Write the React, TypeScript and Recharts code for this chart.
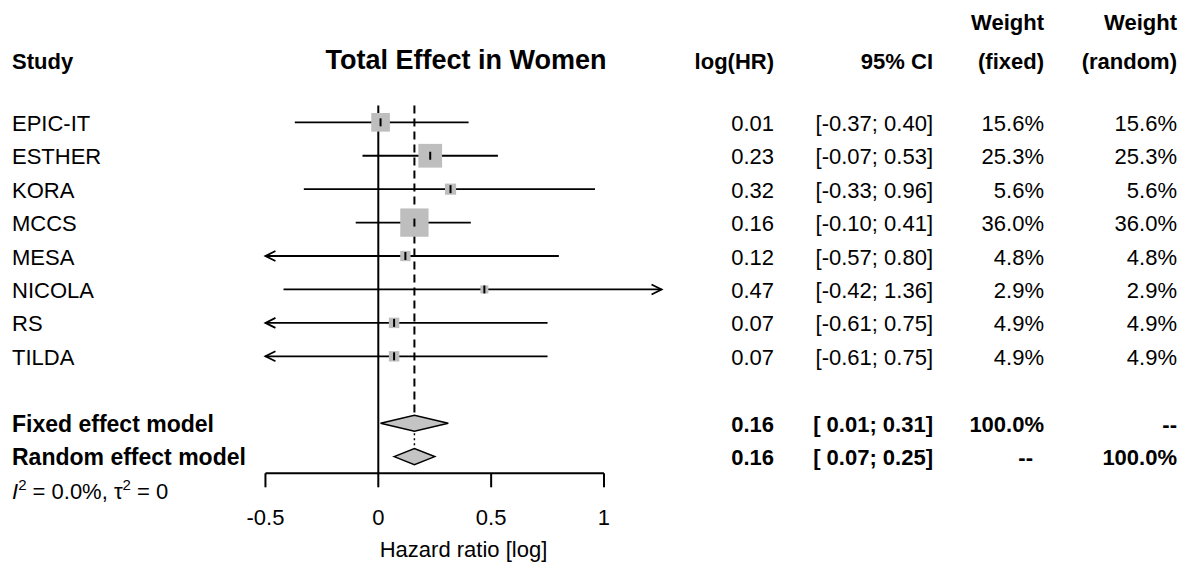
import React from 'react';
import { ComposedChart, XAxis, YAxis, Scatter, ReferenceLine, Customized } from 'recharts';

// ---------- data ----------
const studies = ['EPIC-IT', 'ESTHER', 'KORA', 'MCCS', 'MESA', 'NICOLA', 'RS', 'TILDA'];
const logHR = [0.01, 0.23, 0.32, 0.16, 0.12, 0.47, 0.07, 0.07];
const ciLow = [-0.37, -0.07, -0.33, -0.10, -0.57, -0.42, -0.61, -0.61];
const ciHigh = [0.40, 0.53, 0.96, 0.41, 0.80, 1.36, 0.75, 0.75];
const weightFixed = [15.6, 25.3, 5.6, 36.0, 4.8, 2.9, 4.9, 4.9];
const weightRandom = [15.6, 25.3, 5.6, 36.0, 4.8, 2.9, 4.9, 4.9];

const pooledLabels = ['Fixed effect model', 'Random effect model'];
const pooledEst = [0.16, 0.16];
const pooledLow = [0.01, 0.07];
const pooledHigh = [0.31, 0.25];
const pooledWeightFixed = ['100.0%', '--'];
const pooledWeightRandom = ['--', '100.0%'];

const xTicks = [-0.5, 0, 0.5, 1];
const X_MIN = -0.5;
const X_MAX = 1.255;
const I2 = '0.0%';
const TAU2 = '0';

// ---------- style ----------
const FONT = '"Liberation Sans", Arial, Helvetica, sans-serif';
const FS = 22;
const SQUARE_FILL = '#bebebe';
const COL = { study: 12, est: 774, ci: 933, wf: 1044, wr: 1177 };

const fmtCI = (lo: number, hi: number) =>
  `[${lo < 0 ? '' : '\u00a0'}${lo.toFixed(2)}; ${hi.toFixed(2)}]`;

const studyPoints = studies.map((s, i) => ({ x: logHR[i], y: i, w: weightFixed[i] }));

const tableRows = [
  ...studies.map((s, i) => ({
    x: 0,
    y: i,
    label: s,
    est: logHR[i].toFixed(2),
    ci: fmtCI(ciLow[i], ciHigh[i]),
    wf: `${weightFixed[i].toFixed(1)}%`,
    wr: `${weightRandom[i].toFixed(1)}%`,
    bold: false,
  })),
  ...pooledLabels.map((s, j) => ({
    x: 0,
    y: studies.length + 1 + j,
    label: s,
    est: pooledEst[j].toFixed(2),
    ci: fmtCI(pooledLow[j], pooledHigh[j]),
    wf: pooledWeightFixed[j],
    wr: pooledWeightRandom[j],
    bold: true,
  })),
];

const pooledRowY = pooledLabels.map((_, j) => studies.length + 1 + j);

const TableRow = (p: any) => {
  const r = p.payload;
  const y = p.cy + 8.5;
  const fw = r.bold ? 'bold' : 'normal';
  const wfX = r.wf === '--' ? COL.wf - 11 : COL.wf;
  return (
    <g fontFamily={FONT} fontSize={FS} fill="#000" fontWeight={fw}>
      <text x={COL.study} y={y} fontSize={r.bold ? 23 : FS}>{r.label}</text>
      <text x={COL.est} y={y} textAnchor="end">{r.est}</text>
      <text x={COL.ci} y={y} textAnchor="end" style={{ whiteSpace: 'pre' }}>{r.ci}</text>
      <text x={wfX} y={y} textAnchor="end">{r.wf}</text>
      <text x={COL.wr} y={y} textAnchor="end">{r.wr}</text>
    </g>
  );
};

const StudySquare = (p: any) => {
  const s = 4.72 * Math.sqrt(p.payload.w);
  return (
    <g>
      <rect x={p.cx - s / 2} y={p.cy - s / 2} width={s} height={s} fill={SQUARE_FILL} />
      <line x1={p.cx} x2={p.cx} y1={p.cy - 4} y2={p.cy + 4} stroke="#000" strokeWidth={2} />
    </g>
  );
};

const makeCiShape = (arrowLeft: boolean, arrowRight: boolean) => (p: any) => {
  const { x1, x2, y1 } = p;
  return (
    <g stroke="#000" strokeWidth={1.8} fill="none">
      <line x1={x1} x2={x2} y1={y1} y2={y1} />
      {arrowLeft && <polyline points={`${x1 + 10},${y1 - 5} ${x1},${y1} ${x1 + 10},${y1 + 5}`} />}
      {arrowRight && <polyline points={`${x2 - 10},${y1 - 5} ${x2},${y1} ${x2 - 10},${y1 + 5}`} />}
    </g>
  );
};

const Diamond = (p: any) => {
  const { x1, x2, y1 } = p;
  const mid = (x1 + x2) / 2;
  return (
    <polygon
      points={`${x1},${y1} ${mid},${y1 - 8} ${x2},${y1} ${mid},${y1 + 8}`}
      fill="#c4c4c4"
      stroke="#000"
      strokeWidth={1.5}
    />
  );
};

const Headers = () => (
  <g fontFamily={FONT} fill="#000">
    <text x={466} y={69} fontSize={27} fontWeight="bold" textAnchor="middle">Total Effect in Women</text>
    <g fontSize={FS} fontWeight="bold">
      <text x={COL.study} y={69}>Study</text>
      <text x={COL.est} y={69} textAnchor="end">log(HR)</text>
      <text x={COL.ci} y={69} textAnchor="end">95% CI</text>
      <text x={COL.wf} y={30} textAnchor="end">Weight</text>
      <text x={COL.wf} y={69} textAnchor="end">(fixed)</text>
      <text x={COL.wr} y={30} textAnchor="end">Weight</text>
      <text x={COL.wr} y={69} textAnchor="end">(random)</text>
    </g>
    <text x={COL.study} y={499} fontSize={FS} style={{ whiteSpace: 'pre' }}>
      <tspan fontStyle="italic">I</tspan>
      <tspan fontSize={15} dy={-9}>2</tspan>
      <tspan dy={9}>{` = ${I2}, \u03c4`}</tspan>
      <tspan fontSize={15} dy={-9}>2</tspan>
      <tspan dy={9}>{` = ${TAU2}`}</tspan>
    </text>
  </g>
);

export default function App() {
  return (
    <div style={{ position: 'absolute', left: 0, top: 0, background: '#fff' }}>
      <ComposedChart
        width={1187}
        height={562}
        margin={{ top: 105.6, right: 525.45, bottom: 0, left: 265.45 }}
      >
        <XAxis
          type="number"
          dataKey="x"
          domain={[X_MIN, X_MAX]}
          ticks={xTicks}
          interval={0}
          axisLine={false}
          tickLine={{ stroke: '#000', strokeWidth: 2 }}
          tickSize={14}
          tickMargin={22}
          height={88.7}
          tick={{ fill: '#000', fontSize: FS, fontFamily: FONT }}
          label={{ value: 'Hazard ratio [log]', position: 'insideBottom', offset: 5, fill: '#000', fontSize: FS, fontFamily: FONT }}
        />
        <YAxis type="number" dataKey="y" domain={[-0.5, 10.5]} reversed hide />

        <ReferenceLine
          segment={[{ x: X_MIN, y: 10.5 }, { x: xTicks[xTicks.length - 1], y: 10.5 }]}
          stroke="#000"
          strokeWidth={2}
          ifOverflow="visible"
        />

        {studies.map((s, i) => (
          <ReferenceLine
            key={`ci-${s}`}
            segment={[
              { x: Math.max(ciLow[i], X_MIN), y: i },
              { x: Math.min(ciHigh[i], X_MAX), y: i },
            ]}
            ifOverflow="visible"
            shape={makeCiShape(ciLow[i] < X_MIN, ciHigh[i] > X_MAX)}
          />
        ))}

        <Scatter data={studyPoints} isAnimationActive={false} shape={StudySquare} />

        <ReferenceLine x={0} stroke="#000" strokeWidth={2} ifOverflow="visible" />
        <ReferenceLine
          segment={[{ x: pooledEst[0], y: -0.5 }, { x: pooledEst[0], y: pooledRowY[0] }]}
          stroke="#000"
          strokeWidth={2}
          strokeDasharray="8 5"
          ifOverflow="visible"
        />
        <ReferenceLine
          segment={[{ x: pooledEst[1], y: pooledRowY[0] }, { x: pooledEst[1], y: pooledRowY[1] }]}
          stroke="#000"
          strokeWidth={1.5}
          strokeDasharray="2 3"
          ifOverflow="visible"
        />

        {pooledLabels.map((s, j) => (
          <ReferenceLine
            key={`dia-${s}`}
            segment={[{ x: pooledLow[j], y: pooledRowY[j] }, { x: pooledHigh[j], y: pooledRowY[j] }]}
            ifOverflow="visible"
            shape={Diamond}
          />
        ))}

        <Scatter data={tableRows} isAnimationActive={false} shape={TableRow} />
        <Customized component={<Headers />} />
      </ComposedChart>
    </div>
  );
}
